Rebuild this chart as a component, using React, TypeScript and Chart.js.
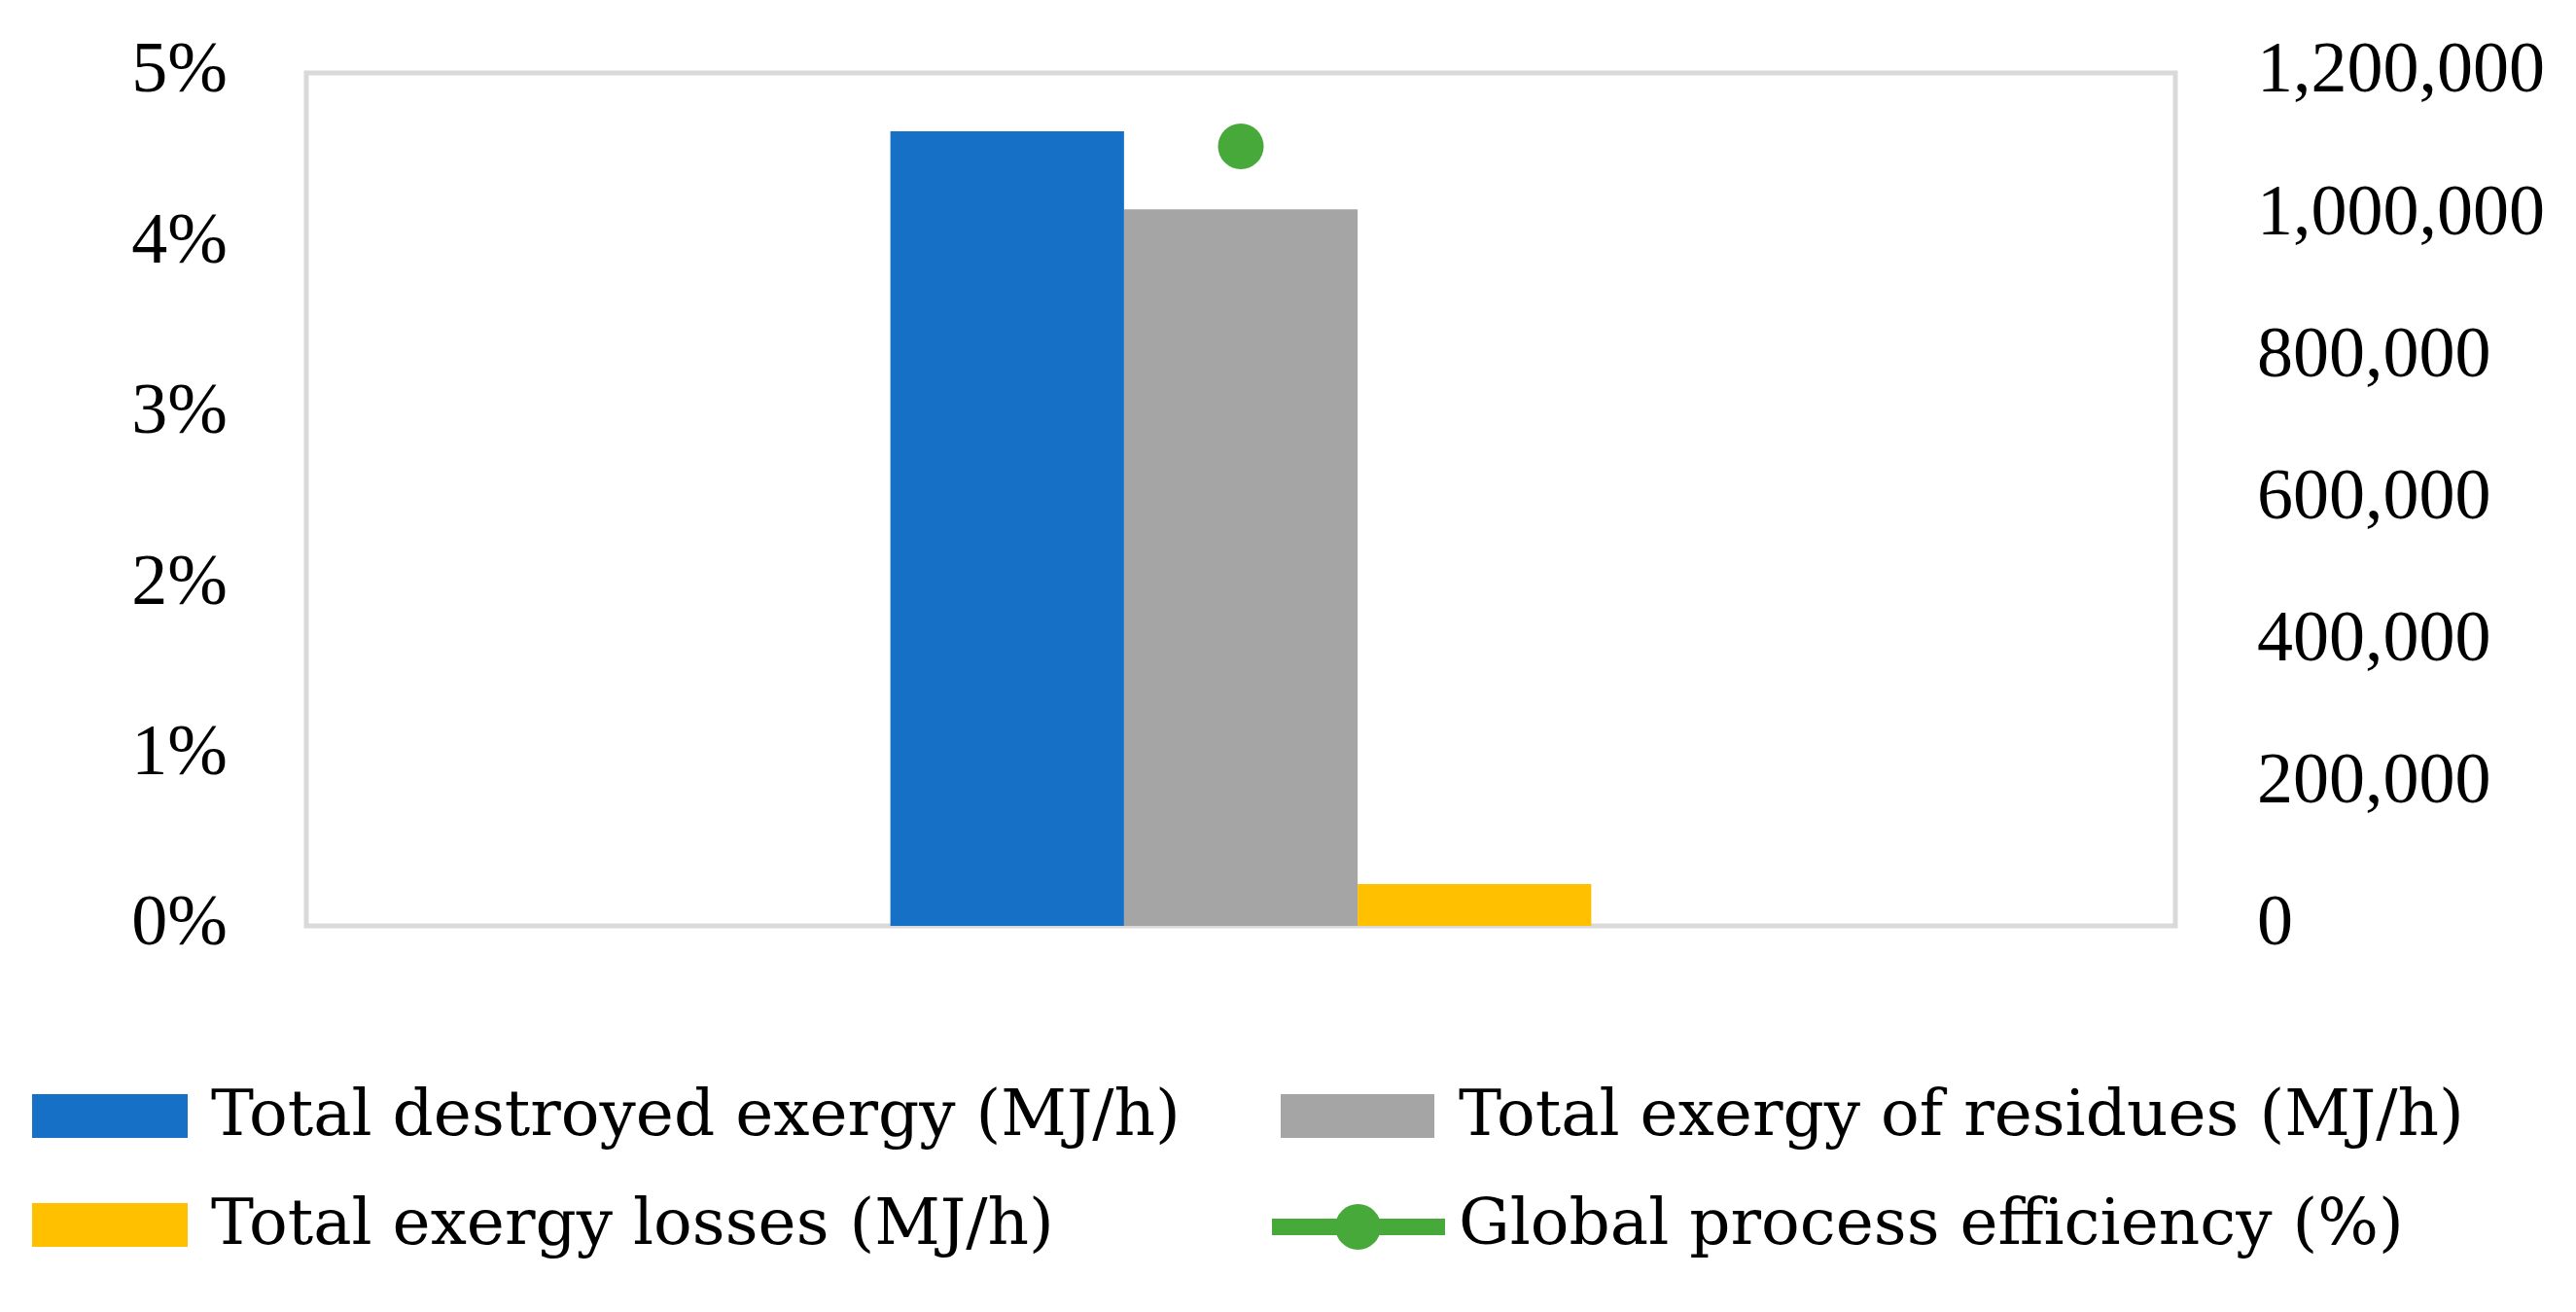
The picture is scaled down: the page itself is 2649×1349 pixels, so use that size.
import React, { useEffect, useRef } from "react";
import { Chart, registerables } from "chart.js";

Chart.register(...registerables);

// ---- Data ----
const categories = ["Process"];
const destroyedExergy = [1118000]; // MJ/h
const residuesExergy = [1008000]; // MJ/h
const exergyLosses = [59000]; // MJ/h
const globalEfficiency = [4.57]; // %

const seriesLabels = [
  "Total destroyed exergy (MJ/h)",
  "Total exergy of residues (MJ/h)",
  "Total exergy losses (MJ/h)",
  "Global process efficiency (%)",
];
const pctAxisMax = 5;
const pctAxisStep = 1;
const mjAxisMax = 1200000;
const mjAxisStep = 200000;

const BLUE = "#1570C6";
const GRAY = "#A5A5A5";
const YELLOW = "#FFC000";
const GREEN = "#47A93A";
const TICK_FONT = "'Liberation Serif', serif";
const LEGEND_FONT = "'DejaVu Serif', serif";

const plotBorder = {
  id: "plotBorder",
  beforeDatasetsDraw(chart: any) {
    const { ctx, chartArea } = chart;
    ctx.save();
    ctx.strokeStyle = "#D9D9D9";
    ctx.lineWidth = 5;
    ctx.strokeRect(
      chartArea.left,
      chartArea.top,
      chartArea.right - chartArea.left,
      chartArea.bottom - chartArea.top
    );
    ctx.restore();
  },
};

export default function App() {
  const canvasRef = useRef<HTMLCanvasElement | null>(null);

  useEffect(() => {
    if (!canvasRef.current) return;
    const chart = new Chart(canvasRef.current, {
      type: "bar",
      data: {
        labels: categories,
        datasets: [
          {
            type: "line",
            label: seriesLabels[3],
            data: globalEfficiency,
            yAxisID: "yPct",
            borderColor: GREEN,
            backgroundColor: GREEN,
            pointBackgroundColor: GREEN,
            pointBorderWidth: 0,
            pointRadius: 23.5,
            borderWidth: 6,
            order: 0,
          } as any,
          {
            label: seriesLabels[0],
            data: destroyedExergy,
            yAxisID: "yMJ",
            backgroundColor: BLUE,
            borderWidth: 0,
            barPercentage: 1,
            categoryPercentage: 0.375,
            order: 1,
          },
          {
            label: seriesLabels[1],
            data: residuesExergy,
            yAxisID: "yMJ",
            backgroundColor: GRAY,
            borderWidth: 0,
            barPercentage: 1,
            categoryPercentage: 0.375,
            order: 2,
          },
          {
            label: seriesLabels[2],
            data: exergyLosses,
            yAxisID: "yMJ",
            backgroundColor: YELLOW,
            borderWidth: 0,
            barPercentage: 1,
            categoryPercentage: 0.375,
            order: 3,
          },
        ],
      },
      options: {
        responsive: false,
        devicePixelRatio: 1,
        animation: false,
        layout: { padding: { left: 0, right: 0, top: 75, bottom: 58 } },
        plugins: {
          legend: { display: false },
          tooltip: { enabled: false },
        },
        scales: {
          x: {
            type: "category",
            display: false,
            offset: true,
          },
          yPct: {
            type: "linear",
            position: "left",
            min: 0,
            max: pctAxisMax,
            ticks: {
              stepSize: pctAxisStep,
              callback: (v: any) => `${v}%`,
              padding: 81,
              color: "#000",
              font: { family: TICK_FONT, size: 74 },
            },
            grid: { display: false, drawTicks: false },
            border: { display: false },
            afterFit: (s: any) => {
              s.width = 315;
              s.paddingTop = 0;
              s.paddingBottom = 0;
            },
          },
          yMJ: {
            type: "linear",
            position: "right",
            min: 0,
            max: mjAxisMax,
            ticks: {
              stepSize: mjAxisStep,
              callback: (v: any) => Number(v).toLocaleString("en-US"),
              padding: 84,
              color: "#000",
              font: { family: TICK_FONT, size: 74 },
            },
            grid: { display: false, drawTicks: false },
            border: { display: false },
            afterFit: (s: any) => {
              s.width = 412;
              s.paddingTop = 0;
              s.paddingBottom = 0;
            },
          },
        },
      },
      plugins: [plotBorder],
    });
    return () => chart.destroy();
  }, []);

  const textStyle = (left: number, top: number): React.CSSProperties => ({
    position: "absolute",
    left,
    top,
    fontFamily: LEGEND_FONT,
    fontSize: 66,
    lineHeight: "66px",
    color: "#000",
    whiteSpace: "nowrap",
  });
  const box = (left: number, top: number, w: number, h: number, color: string): React.CSSProperties => ({
    position: "absolute",
    left,
    top,
    width: w,
    height: h,
    background: color,
  });

  return (
    <div
      style={{
        position: "absolute",
        left: 0,
        top: 0,
        width: 2649,
        height: 1349,
        background: "#fff",
        overflow: "hidden",
      }}
    >
      <canvas ref={canvasRef} width={2649} height={1010} style={{ display: "block", width: 2649, height: 1010 }} />
      {/* Legend */}
      <div style={box(33, 1125, 160, 45, BLUE)} />
      <div style={textStyle(217, 1112)}>{seriesLabels[0]}</div>
      <div style={box(1317, 1125, 158, 45, GRAY)} />
      <div style={textStyle(1500, 1112)}>{seriesLabels[1]}</div>
      <div style={box(33, 1237, 160, 45, YELLOW)} />
      <div style={textStyle(217, 1224)}>{seriesLabels[2]}</div>
      <div style={box(1308, 1253, 178, 17, GREEN)} />
      <div style={{ ...box(1373, 1238, 47, 47, GREEN), borderRadius: "50%" }} />
      <div style={textStyle(1500, 1224)}>{seriesLabels[3]}</div>
    </div>
  );
}
